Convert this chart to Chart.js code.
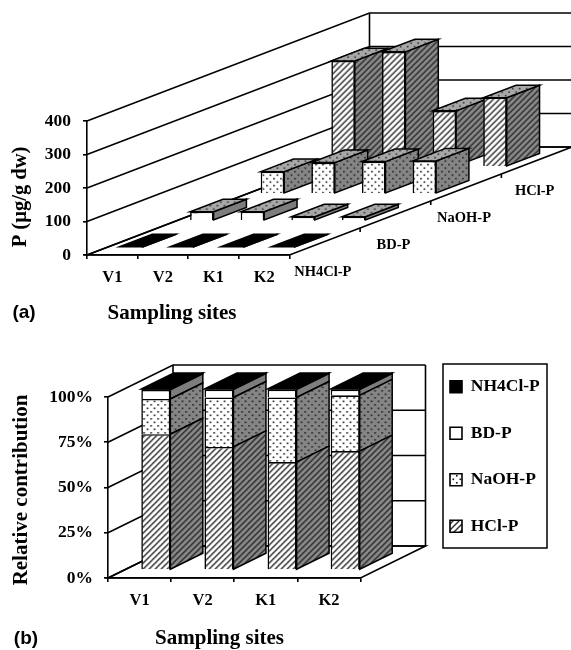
<!DOCTYPE html>
<html>
<head>
<meta charset="utf-8">
<script src="https://cdn.jsdelivr.net/npm/chart.js@4"></script>
<style>
html,body{margin:0;padding:0;background:#fff;width:571px;height:650px;overflow:hidden}
canvas{position:absolute;left:0;display:block;filter:blur(.45px)}
#a{top:0}
#b{top:320px}
</style>
</head>
<body>
<canvas id="a" width="571" height="335"></canvas>
<canvas id="b" width="571" height="330"></canvas>
<script>
// ---- data ----
const sites = ['V1', 'V2', 'K1', 'K2'];
const fractions = ['NH4Cl-P', 'BD-P', 'NaOH-P', 'HCl-P'];

// (a) P in ug/g dw
const nh4clP = [3, 3, 3, 3];
const bdP = [27, 27, 12, 12];
const naohP = [66, 93, 96, 98];
const hclP = [316, 343, 167, 206];

// (b) relative contribution, %
const hclShare = [75, 68, 59.6, 65.7];
const naohShare = [19.5, 27.3, 35.7, 30.8];
const bdShare = [5, 4.4, 4.4, 3.2];
const nh4clShare = [0.5, 0.3, 0.3, 0.3];

const yTicksA = [0, 100, 200, 300, 400];
const yTicksB = [0, 25, 50, 75, 100];

// ---- fills ----
function pattern(bg, kind, ink) {
  const size = kind === 'hatch' ? 6 : 7;
  const c = document.createElement('canvas');
  c.width = c.height = size;
  const g = c.getContext('2d');
  g.fillStyle = bg; g.fillRect(0, 0, size, size);
  g.strokeStyle = g.fillStyle = ink;
  if (kind === 'hatch') {
    g.lineWidth = 1.5;
    [[-size, size, size, -size], [0, size, size, 0], [0, 2 * size, 2 * size, 0]].forEach(s => {
      g.beginPath(); g.moveTo(s[0], s[1]); g.lineTo(s[2], s[3]); g.stroke();
    });
  } else {
    g.fillRect(1, 1, 1.6, 1.6);
    g.fillRect(4.5, 4.5, 1.6, 1.6);
  }
  return g.createPattern(c, 'repeat');
}
const hatchFront = pattern('#ffffff', 'hatch', '#333333');
const hatchSide = pattern('#8a8a8a', 'hatch', '#2a2a2a');
const dotFront = pattern('#ffffff', 'dots', '#1a1a1a');
const dotSide = pattern('#858585', 'dots', '#222222');
const dotTop = pattern('#a8a8a8', 'dots', '#333333');

const serif = 'Liberation Serif';
const bold = size => ({ family: serif, weight: 'bold', size });

// ---- pseudo 3D drawn around the bars the library lays out ----
const box3d = {
  id: 'box3d',
  beforeDatasetsDraw(chart, args, o) {
    const { ctx, chartArea: a, scales: { x, y } } = chart;
    ctx.save();
    ctx.strokeStyle = '#000';
    ctx.lineWidth = 1.6;
    const y0 = y.getPixelForValue(0);
    const yMax = y.getPixelForValue(y.max);
    ctx.fillStyle = '#fff';
    ctx.beginPath();
    ctx.moveTo(a.left, y0); ctx.lineTo(a.left + o.depthX, y0 - o.depthY);
    ctx.lineTo(a.right + o.depthX, y0 - o.depthY); ctx.lineTo(a.right, y0);
    ctx.closePath(); ctx.stroke();
    y.ticks.forEach(t => {
      const py = y.getPixelForValue(t.value);
      ctx.beginPath();
      ctx.moveTo(a.left, py);
      ctx.lineTo(a.left + o.depthX, py - o.depthY);
      ctx.lineTo(a.right + o.depthX, py - o.depthY);
      ctx.stroke();
    });
    ctx.beginPath();
    ctx.moveTo(a.left + o.depthX, y0 - o.depthY);
    ctx.lineTo(a.left + o.depthX, yMax - o.depthY);
    ctx.moveTo(a.right + o.depthX, y0 - o.depthY);
    ctx.lineTo(a.right + o.depthX, yMax - o.depthY);
    ctx.stroke();
    // depth axis ticks and row names
    if (o.rows > 1) {
      ctx.fillStyle = '#000';
      ctx.font = 'bold 14.5px "' + serif + '"';
      ctx.textAlign = 'center';
      ctx.textBaseline = 'middle';
      chart.data.datasets.forEach((ds, i) => {
        const tx = a.right + o.depthX * (i + 1) / o.rows;
        const ty = y0 - o.depthY * (i + 1) / o.rows;
        ctx.beginPath(); ctx.moveTo(tx, ty); ctx.lineTo(tx, ty + 4); ctx.stroke();
        const cx = a.right + o.depthX * (i + 0.5) / o.rows - 2;
        const cy = y0 - o.depthY * (i + 0.5) / o.rows + 31;
        ctx.fillText(ds.label, cx, cy);
      });
    }
    ctx.restore();
  },
  beforeDatasetDraw(chart, { index, meta }, o) {
    const { ctx } = chart;
    const ds = chart.data.datasets[index];
    const row = o.rows > 1 ? index : 0;
    const slotX = o.depthX / o.rows, slotY = o.depthY / o.rows;
    const dx = slotX * o.fill, dy = slotY * o.fill;
    ctx.save();
    ctx.translate(slotX * row + (slotX - dx) / 2, -(slotY * row + (slotY - dy) / 2));
    ctx.strokeStyle = '#000';
    ctx.lineWidth = 1.5;
    const showTop = o.rows > 1 || index === chart.data.datasets.length - 1;
    meta.data.forEach(bar => {
      const { x, y, base, width } = bar.getProps(['x', 'y', 'base', 'width'], true);
      const l = x - width / 2, r = x + width / 2;
      ctx.fillStyle = ds.sideColor;
      ctx.beginPath();
      ctx.moveTo(r, y); ctx.lineTo(r + dx, y - dy); ctx.lineTo(r + dx, base - dy); ctx.lineTo(r, base);
      ctx.closePath(); ctx.fill(); ctx.stroke();
      if (showTop) {
        ctx.fillStyle = ds.topColor;
        ctx.beginPath();
        ctx.moveTo(l, y); ctx.lineTo(r, y); ctx.lineTo(r + dx, y - dy); ctx.lineTo(l + dx, y - dy);
        ctx.closePath(); ctx.fill(); ctx.stroke();
      }
    });
  },
  afterDatasetDraw(chart) { chart.ctx.restore(); },
  afterLayout(chart, args, o) {
    if (!o.legendRect || !chart.legend) return;
    const L = chart.legend, r = o.legendRect;
    L.left = r.left; L.top = r.top; L.right = r.right; L.bottom = r.bottom;
    L.width = r.right - r.left; L.height = r.bottom - r.top;
  },
  afterDraw(chart, args, o) {
    const { ctx } = chart;
    ctx.save();
    ctx.fillStyle = '#000';
    ctx.textAlign = 'center';
    ctx.textBaseline = 'middle';
    (o.texts || []).forEach(t => {
      ctx.save();
      ctx.translate(t.x, t.y);
      if (t.rotate) ctx.rotate(-Math.PI / 2);
      ctx.font = t.font;
      ctx.fillText(t.text, 0, 0);
      ctx.restore();
    });
    if (o.frame) {
      ctx.strokeStyle = '#000';
      ctx.lineWidth = 1.5;
      ctx.strokeRect(o.frame.x, o.frame.y, o.frame.w, o.frame.h);
    }
    ctx.restore();
  }
};

function axisGrid() {
  return { drawOnChartArea: false, drawTicks: true, tickLength: 4, color: '#000', lineWidth: 1.6 };
}
function axisBorder() { return { display: true, color: '#000', width: 1.6 }; }

Chart.defaults.color = '#000';

// ---- (a) ----
const rowsA = [
  { label: fractions[0], data: nh4clP, backgroundColor: '#000', sideColor: '#000', topColor: '#000' },
  { label: fractions[1], data: bdP, backgroundColor: '#fff', sideColor: '#7d7d7d', topColor: dotTop },
  { label: fractions[2], data: naohP, backgroundColor: dotFront, sideColor: dotSide, topColor: dotTop },
  { label: fractions[3], data: hclP, backgroundColor: hatchFront, sideColor: hatchSide, topColor: dotTop }
];
new Chart(document.getElementById('a'), {
  type: 'bar',
  data: {
    labels: sites,
    datasets: rowsA.map(r => Object.assign({
      borderColor: '#000', borderWidth: 1.6, clip: false,
      barPercentage: 0.464, categoryPercentage: 1, grouped: false
    }, r))
  },
  options: {
    responsive: false, animation: false, devicePixelRatio: 1, events: [],
    layout: { autoPadding: false, padding: { left: 0, top: 121, right: 281.5, bottom: 0 } },
    plugins: {
      legend: { display: false },
      tooltip: { enabled: false },
      box3d: {
        depthX: 282.5, depthY: 108, rows: 4, fill: 0.465,
        texts: [
          { text: 'P (\u00b5g/g dw)', x: 21, y: 197, rotate: true, font: 'bold 20.5px "' + serif + '"' },
          { text: 'Sampling sites', x: 172, y: 314, font: 'bold 21px "' + serif + '"' },
          { text: '(a)', x: 24, y: 313, font: 'bold 19px "Liberation Sans"' }
        ]
      }
    },
    scales: {
      x: {
        grid: axisGrid(), border: axisBorder(),
        ticks: { font: bold(16.5), padding: 9, maxRotation: 0, autoSkip: false },
        afterFit(s) { s.height = 80; }
      },
      y: {
        min: 0, max: 400,
        grid: axisGrid(), border: axisBorder(),
        afterBuildTicks(s) { s.ticks = yTicksA.map(value => ({ value })); },
        ticks: { font: bold(17.5), padding: 12 },
        afterFit(s) { s.width = 87; }
      }
    }
  },
  plugins: [box3d]
});

// ---- (b) ----
const rowsB = [
  { label: fractions[3], data: hclShare, backgroundColor: hatchFront, sideColor: hatchSide, topColor: '#000' },
  { label: fractions[2], data: naohShare, backgroundColor: dotFront, sideColor: dotSide, topColor: '#000' },
  { label: fractions[1], data: bdShare, backgroundColor: '#fff', sideColor: '#7d7d7d', topColor: '#000' },
  { label: fractions[0], data: nh4clShare, backgroundColor: '#000', sideColor: '#000', topColor: '#000' }
];
new Chart(document.getElementById('b'), {
  type: 'bar',
  data: {
    labels: sites,
    datasets: rowsB.map(r => Object.assign({
      borderColor: '#000', borderWidth: 1.6, clip: false,
      barPercentage: 0.46, categoryPercentage: 1
    }, r))
  },
  options: {
    responsive: false, animation: false, devicePixelRatio: 1, events: [],
    layout: { autoPadding: false, padding: { left: 0, top: 77, right: 110.5, bottom: 0 } },
    plugins: {
      legend: {
        position: 'right', align: 'start', reverse: true, maxWidth: 100,
        labels: { font: bold(17.5), boxWidth: 12, boxHeight: 12, padding: 29, color: '#000' }
      },
      tooltip: { enabled: false },
      box3d: {
        depthX: 65, depthY: 32, rows: 1, fill: 0.5,
        legendRect: { left: 421, top: 29, right: 560, bottom: 320 },
        frame: { x: 443, y: 44, w: 104, h: 184 },
        texts: [
          { text: 'Relative contribution', x: 22, y: 170, rotate: true, font: 'bold 21px "' + serif + '"' },
          { text: 'Sampling sites', x: 219.5, y: 319, font: 'bold 21px "' + serif + '"' },
          { text: '(b)', x: 26, y: 319, font: 'bold 19px "Liberation Sans"' }
        ]
      }
    },
    scales: {
      x: {
        stacked: true,
        grid: axisGrid(), border: axisBorder(),
        ticks: { font: bold(16.5), padding: 9, maxRotation: 0, autoSkip: false },
        afterFit(s) { s.height = 72; }
      },
      y: {
        stacked: true, min: 0, max: 100,
        grid: axisGrid(), border: axisBorder(),
        afterBuildTicks(s) { s.ticks = yTicksB.map(value => ({ value })); },
        ticks: { font: bold(17.5), padding: 11, callback: v => v + '%' },
        afterFit(s) { s.width = 108; }
      }
    }
  },
  plugins: [box3d]
});
</script>
</body>
</html>
